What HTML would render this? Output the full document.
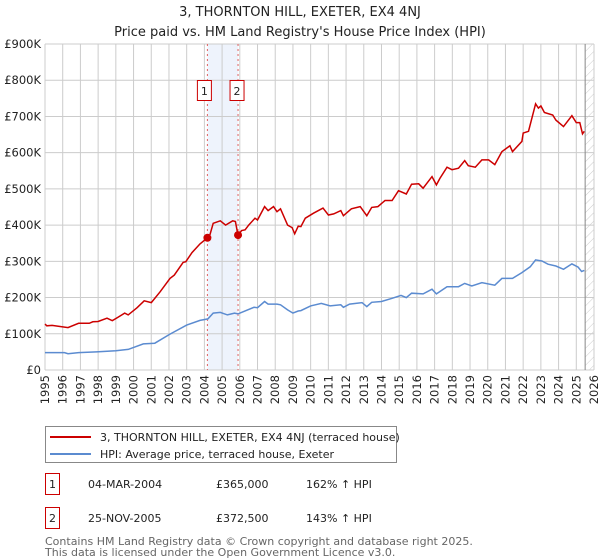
<!DOCTYPE html>
<html><head><meta charset="utf-8">
<style>
body{margin:0;background:#fff;font-family:"DejaVu Sans","Liberation Sans",sans-serif;}
svg{display:block}
</style></head>
<body>
<svg id="chart" width="600" height="560" xmlns="http://www.w3.org/2000/svg" font-family="DejaVu Sans, Liberation Sans, sans-serif">
<defs>
<pattern id="hatch" width="6" height="6" patternUnits="userSpaceOnUse" patternTransform="rotate(45)">
<line x1="0" y1="0" x2="0" y2="6" stroke="#ccc" stroke-width="1"/>
</pattern>
</defs>
<text x="300" y="16" text-anchor="middle" font-size="13" fill="#222">3, THORNTON HILL, EXETER, EX4 4NJ</text>
<text x="300" y="36" text-anchor="middle" font-size="13" fill="#222">Price paid vs. HM Land Registry's House Price Index (HPI)</text>
<g id="grid"></g>
<g id="series"></g>
<g id="axes"></g>
<g>
<rect x="45.5" y="426.5" width="351" height="36" fill="#fff" stroke="#888"/>
<line x1="50" y1="437" x2="91" y2="437" stroke="#cc0000" stroke-width="2"/>
<text x="100" y="441" font-size="11" fill="#222">3, THORNTON HILL, EXETER, EX4 4NJ (terraced house)</text>
<line x1="50" y1="454" x2="91" y2="454" stroke="#5b8bd0" stroke-width="2"/>
<text x="100" y="458" font-size="11" fill="#222">HPI: Average price, terraced house, Exeter</text>
</g>
<g font-size="11" fill="#222">
<rect x="45.5" y="473.5" width="14" height="21" fill="#fff" stroke="#cc0000"/>
<text x="52.5" y="488" text-anchor="middle">1</text>
<text x="88" y="488">04-MAR-2004</text>
<text x="216" y="488">£365,000</text>
<text x="306" y="488">162% ↑ HPI</text>
<rect x="45.5" y="507.5" width="14" height="21" fill="#fff" stroke="#cc0000"/>
<text x="52.5" y="522" text-anchor="middle">2</text>
<text x="88" y="522">25-NOV-2005</text>
<text x="216" y="522">£372,500</text>
<text x="306" y="522">143% ↑ HPI</text>
</g>
<text x="45" y="545" font-size="11" fill="#666">Contains HM Land Registry data © Crown copyright and database right 2025.</text>
<text x="45" y="556" font-size="11" fill="#666">This data is licensed under the Open Government Licence v3.0.</text>
</svg>
<script>
const yTicks=[0,100,200,300,400,500,600,700,800,900];
const yTickLabels=["£0","£100K","£200K","£300K","£400K","£500K","£600K","£700K","£800K","£900K"];
const years=[1995,1996,1997,1998,1999,2000,2001,2002,2003,2004,2005,2006,2007,2008,2009,2010,2011,2012,2013,2014,2015,2016,2017,2018,2019,2020,2021,2022,2023,2024,2025,2026];
const propT=[1995,1995.1,1995.4,1996.3,1996.9,1997.5,1997.7,1998,1998.5,1998.8,1999.1,1999.5,1999.7,2000.2,2000.6,2001,2001.5,2002.06,2002.3,2002.8,2002.95,2003.3,2003.75,2004.17,2004.3,2004.5,2004.9,2005.2,2005.6,2005.75,2005.9,2006.1,2006.3,2006.5,2006.86,2007,2007.4,2007.6,2007.9,2008.1,2008.3,2008.7,2008.95,2009.1,2009.3,2009.45,2009.7,2010.16,2010.7,2011,2011.3,2011.7,2011.85,2012.3,2012.8,2013.17,2013.45,2013.8,2014.2,2014.6,2014.96,2015.4,2015.7,2016.1,2016.35,2016.85,2017.1,2017.3,2017.7,2017.98,2018.35,2018.7,2018.9,2019.3,2019.67,2020.05,2020.4,2020.8,2021.25,2021.4,2021.93,2022,2022.3,2022.7,2022.86,2023,2023.2,2023.67,2023.85,2024.28,2024.75,2025,2025.2,2025.35,2025.45];
const propV=[127,122,123,117,129,129,133,134,143,136,145,157,152,172,191,186,216,253,262,297,299,324,348,365,371,405,412,400,412,410,372,385,387,400,419,414,451,440,451,437,445,400,393,376,397,396,419,433,447,428,431,440,426,445,451,426,449,451,468,468,495,486,513,514,502,534,511,529,560,553,557,578,564,560,580,580,567,603,619,603,631,654,659,735,723,729,711,704,690,672,702,683,683,652,659];
const hpiT=[1995,1996.1,1996.3,1996.9,1997.9,1999,1999.7,2000.55,2001.2,2002.06,2003,2003.75,2004.2,2004.5,2004.9,2005.3,2005.7,2005.9,2006.2,2006.8,2007,2007.4,2007.6,2008.1,2008.3,2008.7,2009,2009.3,2009.45,2010,2010.6,2011.1,2011.7,2011.85,2012.2,2012.9,2013.17,2013.45,2014,2014.6,2015.1,2015.4,2015.7,2016.35,2016.85,2017.1,2017.7,2018.35,2018.7,2019.1,2019.67,2020.4,2020.8,2021.4,2021.93,2022.4,2022.7,2023.06,2023.4,2023.85,2024.28,2024.75,2025.1,2025.3,2025.45];
const hpiV=[48,48,45,48,50,53,57,72,74,99,124,137,141,157,159,152,157,155,161,173,172,189,182,182,180,166,157,163,164,177,184,177,180,173,182,186,175,187,189,198,206,200,212,210,223,210,230,230,239,232,241,234,253,253,269,285,304,301,292,287,278,293,284,272,275];
const saleT=[2004.17,2005.9];
const saleV=[365,372.5];
const saleLabels=["1","2"];

const X0=45,X1=594,Y0=370,Y1=44;
const xs=t=>X0+(t-1995)/(2026-1995)*(X1-X0);
const ys=v=>Y0-v/900*(Y0-Y1);
const NS="http://www.w3.org/2000/svg";
function mk(tag,attrs,parent){const e=document.createElementNS(NS,tag);for(const k in attrs)e.setAttribute(k,attrs[k]);parent.appendChild(e);return e;}
const grid=document.getElementById('grid'),ser=document.getElementById('series'),axes=document.getElementById('axes');

// shaded span between sales
let band=mk('rect',{x:xs(saleT[0]),y:Y1,width:xs(saleT[1])-xs(saleT[0]),height:Y0-Y1,fill:'#eef3fc'},grid);


// hatched future
let hz=mk('rect',{x:xs(2025.5),y:Y1,width:X1-xs(2025.5),height:Y0-Y1,fill:'url(#hatch)'},grid);



yTicks.forEach((v,i)=>{
  let l=mk('line',{x1:X0,x2:X1,y1:ys(v),y2:ys(v),stroke:'#ccc','stroke-width':1},grid);
  
  
  let t=mk('text',{x:X0-4,y:ys(v)+4,'text-anchor':'end','font-size':11.5,fill:'#222'},axes);
  t.textContent=yTickLabels[i];
  
  
});
years.forEach(yr=>{
  let l=mk('line',{x1:xs(yr),x2:xs(yr),y1:Y1,y2:Y0,stroke:'#ccc','stroke-width':1},grid);
  
  
  let t=mk('text',{x:0,y:0,'text-anchor':'end','font-size':11.5,fill:'#222',transform:`translate(${xs(yr)+4},${Y0+5}) rotate(-90)`},axes);
  t.textContent=yr;
  
  
});
let nowl=mk('line',{x1:xs(2025.5),x2:xs(2025.5),y1:Y1,y2:Y0,stroke:'#888','stroke-width':1},grid);



saleT.forEach((t,i)=>{
  let l=mk('line',{x1:xs(t),x2:xs(t),y1:Y1,y2:Y0,stroke:'#e06060','stroke-width':1,'stroke-dasharray':'2,3'},grid);
  
  
});

function path(T,V){return T.map((t,i)=>(i?'L':'M')+xs(t).toFixed(1)+','+ys(V[i]).toFixed(1)).join('');}
let hp=mk('path',{d:path(hpiT,hpiV),fill:'none',stroke:'#5b8bd0','stroke-width':1.5},ser);


let pp=mk('path',{d:path(propT,propV),fill:'none',stroke:'#cc0000','stroke-width':1.5},ser);



saleT.forEach((t,i)=>{
  let c=mk('circle',{cx:xs(t),cy:ys(saleV[i]),r:4,fill:'#cc0000'},ser);
  
  
  let bx=xs(t)-7-(i===0?3:1);
  let r=mk('rect',{x:bx,y:80.5,width:14,height:20,fill:'#fff',stroke:'#cc0000'},ser);
  
  
  let tx=mk('text',{x:bx+7,y:95,'text-anchor':'middle','font-size':11,fill:'#222'},ser);
  tx.textContent=saleLabels[i];
  
  
});
</script>
</body></html>
